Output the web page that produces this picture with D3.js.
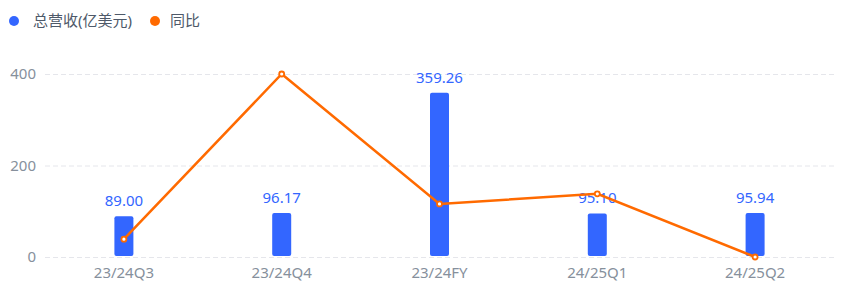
<!DOCTYPE html>
<html><head><meta charset="utf-8">
<script src="https://cdn.jsdelivr.net/npm/d3@7/dist/d3.min.js"></script>
<style>body{margin:0;background:#fff;}svg{display:block;font-family:"Noto Sans","Noto Sans CJK SC",sans-serif;}</style>
</head><body><svg id="c" width="849" height="304"></svg>
<script>
const categories = ["23/24Q3","23/24Q4","23/24FY","24/25Q1","24/25Q2"];
const revenue = [89.00, 96.17, 359.26, 95.10, 95.94];
const yoy = [39, 400, 116, 138, 0];
const yTicks = [0, 200, 400];
const seriesNames = ["总营收(亿美元)", "同比"];

const svg = d3.select("#c");
const blue = "#3366ff", orange = "#ff6a00";
const m = {l:45, r:834, t:74, b:257};
const x = d3.scaleBand().domain(categories).range([m.l, m.r]);
const y = d3.scaleLinear().domain([0, 400]).range([m.b, m.t]);

// grid
svg.append("g").selectAll("line").data(yTicks).join("line")
  .attr("x1", m.l).attr("x2", m.r).attr("y1", d=>y(d)+0.5).attr("y2", d=>y(d)+0.5)
  .attr("stroke", "#e5e6eb").attr("stroke-dasharray", "5,3");

// y axis labels
svg.append("g").selectAll("text").data(yTicks).join("text")
  .attr("x", 36).attr("y", d=>y(d)).attr("dy", "0.35em").attr("text-anchor","end")
  .attr("fill", "#86909c").attr("font-size", 15).text(d=>d);

// x axis labels
svg.append("g").selectAll("text").data(categories).join("text")
  .attr("x", d=>x(d)+x.bandwidth()/2).attr("y", 278).attr("text-anchor","middle")
  .attr("fill", "#86909c").attr("font-size", 15).text(d=>d);

// bars
const bw = 19;
svg.append("g").selectAll("rect").data(revenue).join("rect")
  .attr("x", (d,i)=>x(categories[i])+x.bandwidth()/2-bw/2)
  .attr("y", d=>y(d)).attr("width", bw).attr("height", d=>y(0)-y(d)-1)
  .attr("rx", 2).attr("fill", blue);

// bar labels
svg.append("g").selectAll("text").data(revenue).join("text")
  .attr("x", (d,i)=>x(categories[i])+x.bandwidth()/2).attr("y", d=>y(d)-10)
  .attr("text-anchor","middle").attr("fill", blue).attr("font-size", 15)
  .text(d=>d.toFixed(2));

// line
const line = d3.line().x((d,i)=>x(categories[i])+x.bandwidth()/2).y(d=>y(d));
svg.append("path").datum(yoy).attr("d", line).attr("fill","none")
  .attr("stroke", orange).attr("stroke-width", 2.5);
svg.append("g").selectAll("circle").data(yoy).join("circle")
  .attr("cx", (d,i)=>x(categories[i])+x.bandwidth()/2).attr("cy", d=>y(d))
  .attr("r", 2.5).attr("fill", "#fff").attr("stroke", orange).attr("stroke-width", 1.8);

// legend
const lg = svg.append("g");
const legendX = [14, 155];
const legendTextX = [33, 170];
const legendColors = [blue, orange];
seriesNames.forEach((n,i)=>{
  lg.append("circle").attr("cx", legendX[i]).attr("cy", 21).attr("r", 5).attr("fill", legendColors[i]);
  lg.append("text").attr("x", legendTextX[i]).attr("y", 21).attr("dy","0.35em")
    .attr("fill", "#4e5969").attr("font-size", 15).text(n);
});
</script></body></html>
